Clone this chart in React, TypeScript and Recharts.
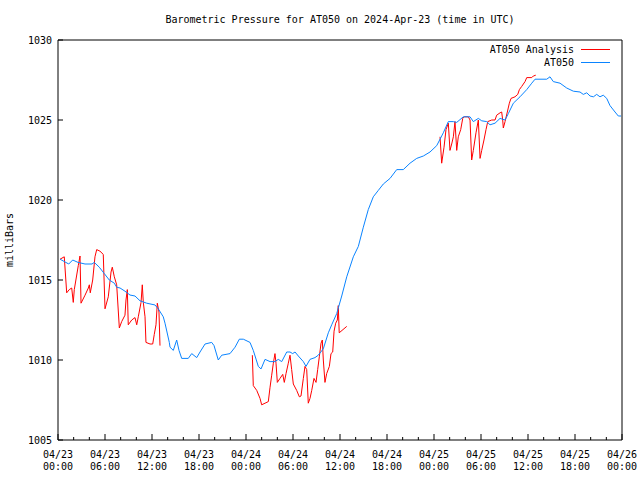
import React from 'react';
import { LineChart, Line, XAxis, YAxis } from 'recharts';

// hours since 2024-04-23 00:00 UTC
const stationHours = [
  0.26, 1.37, 1.88, 2.55, 3.45, 4.34, 4.63, 5.27, 5.91, 6.55, 7.19, 7.49, 7.92, 8.55, 9.19, 9.83,
  10.47, 11.32, 12.38, 12.8, 13.44, 13.66, 14.21, 14.3, 14.72, 15.15, 15.45, 15.79, 16.63, 17.07,
  17.71, 18.13, 18.77, 19.62, 19.92, 20.46, 20.9, 21.96, 22.6, 23.15, 23.66, 24.51, 24.93, 25.57,
  25.92, 26.43, 27.07, 27.7, 28.12, 28.56, 29.2, 29.62, 29.96, 30.26, 30.68, 31.32, 31.66, 32.17,
  32.81, 33.23, 33.87, 34.51, 34.94, 35.58, 36.22, 36.86, 37.7, 38.34, 38.98, 39.61, 40.25, 40.89,
  41.53, 42.39, 43.24, 44.08, 44.94, 45.79, 46.64, 47.49, 48.35, 49.19, 49.83, 50.47, 50.9, 51.74,
  52.6, 53.02, 53.66, 54.09, 54.73, 55.15, 55.79, 56.43, 57.07, 57.49, 58.13, 58.98, 59.84, 60.48,
  60.9, 62.39, 62.81, 63.23, 64.09, 64.94, 65.79, 66.64, 67.06, 67.5, 67.92, 68.35, 68.77, 69.19,
  69.61, 70.05, 70.47, 71.11, 71.53, 71.88,
];
const stationPressure = [
  1016.3, 1016.0, 1016.25, 1016.1, 1016.0, 1016.0, 1016.1, 1015.8, 1015.4, 1015.0, 1014.8, 1014.55,
  1014.5, 1014.3, 1014.06, 1014.0, 1013.7, 1013.55, 1013.44, 1013.2, 1012.7, 1012.3, 1011.1, 1010.8,
  1010.6, 1011.25, 1010.6, 1010.1, 1010.1, 1010.4, 1010.15, 1010.5, 1011.0, 1011.1, 1010.9, 1010.0,
  1010.3, 1010.4, 1010.8, 1011.3, 1011.3, 1011.1, 1010.6, 1009.6, 1009.44, 1010.04, 1009.9, 1009.9,
  1010.04, 1009.9, 1010.5, 1010.5, 1010.4, 1010.5, 1010.25, 1009.9, 1009.6, 1010.04, 1010.15, 1010.3,
  1010.7, 1011.7, 1012.2, 1012.9, 1014.0, 1015.2, 1016.45, 1017.1, 1018.3, 1019.4, 1020.2, 1020.6,
  1021.0, 1021.35, 1021.9, 1021.9, 1022.3, 1022.6, 1022.75, 1023.0, 1023.4, 1024.2, 1024.9, 1024.9,
  1024.85, 1025.2, 1025.2, 1024.9, 1025.1, 1024.95, 1024.9, 1024.7, 1024.8, 1025.1, 1025.0, 1025.4,
  1026.05, 1026.45, 1026.9, 1027.3, 1027.55, 1027.55, 1027.7, 1027.4, 1027.3, 1027.0, 1026.8,
  1026.75, 1026.6, 1026.7, 1026.5, 1026.45, 1026.6, 1026.45, 1026.55, 1026.35, 1025.9, 1025.5,
  1025.25, 1025.25,
];

// analysis values, null = gap between runs
const analysisHours = [
  0.26, 0.8, 1.11, 1.44, 1.75, 1.95, 2.08, 2.59, 2.81, 2.94, 3.45, 3.87, 4.0, 4.12, 4.43, 4.72, 4.94,
  5.36, 5.78, 6.0, 6.42, 6.77, 6.93, 7.19, 7.49, 7.83, 8.13, 8.55, 8.68, 8.85, 8.97, 9.41, 9.83,
  10.05, 10.25, 10.6, 10.76, 10.89, 11.11, 11.23, 11.75, 12.09, 12.29, 12.51, 12.68, 12.89, 13.02,
  18.0,
  24.81, 24.93, 25.37, 25.79, 26.0, 26.43, 26.85, 27.07, 27.28, 27.49, 27.7, 27.83, 28.0, 28.34,
  28.69, 28.89, 29.11, 29.4, 29.62, 29.83, 30.04, 30.47, 30.81, 31.02, 31.32, 31.53, 31.75, 31.95,
  32.17, 32.39, 32.68, 32.94, 33.15, 33.36, 33.58, 33.74, 33.87, 34.08, 34.3, 34.64, 34.85, 35.07,
  35.24, 35.45, 35.66, 35.78, 35.9, 36.86,
  42.0,
  48.77, 48.98, 49.28, 49.53, 49.83, 50.04, 50.26, 50.47, 50.68, 50.9, 51.1, 51.41, 51.67, 51.87,
  52.38, 52.6, 52.81, 53.02, 53.36, 53.66, 53.88, 54.09, 54.38, 54.64, 54.86, 55.37, 55.79, 56.0,
  56.43, 56.64, 56.77, 56.85, 57.07, 57.36, 57.62, 57.83, 58.34, 58.69, 58.9, 59.2, 59.62, 59.84,
  60.48, 60.68, 60.99,
];
const analysisPressure = [
  1016.3, 1016.45, 1014.2, 1014.4, 1014.5, 1013.6, 1014.4, 1015.9, 1016.5, 1013.55, 1014.05, 1014.5,
  1014.7, 1014.2, 1015.0, 1016.45, 1016.9, 1016.8, 1016.6, 1013.2, 1013.95, 1015.5, 1015.8, 1015.2,
  1014.7, 1012.0, 1012.4, 1012.8, 1013.75, 1014.4, 1012.2, 1012.5, 1012.65, 1012.2, 1012.7, 1013.6,
  1014.7, 1013.6, 1012.7, 1011.1, 1011.0, 1011.0, 1011.6, 1012.2, 1013.55, 1013.0, 1010.9,
  null,
  1010.3, 1008.4, 1008.1, 1007.6, 1007.2, 1007.3, 1007.4, 1008.3, 1009.05, 1009.8, 1010.4, 1009.8,
  1008.6, 1008.85, 1009.1, 1008.6, 1009.15, 1009.8, 1010.3, 1009.4, 1008.5, 1008.1, 1007.7, 1007.75,
  1008.85, 1009.6, 1009.4, 1007.3, 1007.6, 1008.1, 1008.85, 1008.6, 1009.4, 1010.2, 1011.05,
  1011.25, 1010.0, 1008.6, 1009.15, 1009.6, 1010.4, 1010.5, 1011.8, 1012.3, 1012.5, 1013.4, 1011.7,
  1012.1,
  null,
  1023.95, 1022.3, 1023.3, 1024.4, 1024.8, 1023.1, 1023.5, 1023.95, 1024.9, 1023.1, 1023.95, 1024.4,
  1025.1, 1025.2, 1025.2, 1025.0, 1022.5, 1023.1, 1024.2, 1025.0, 1022.6, 1023.1, 1023.75, 1024.4,
  1024.9, 1025.0, 1025.0, 1025.3, 1025.45, 1025.5, 1025.0, 1024.5, 1024.9, 1025.5, 1026.05, 1026.35,
  1026.45, 1026.6, 1026.9, 1027.1, 1027.4, 1027.65, 1027.65, 1027.75, 1027.8,
];

const xTicks = [0, 2, 4, 6, 8, 10, 12, 14, 16, 18, 20, 22, 24, 26, 28, 30, 32, 34, 36, 38, 40, 42, 44,
  46, 48, 50, 52, 54, 56, 58, 60, 62, 64, 66, 68, 70, 72];
const yTicks = [1005, 1010, 1015, 1020, 1025, 1030];

const stationData = stationHours.map((h, i) => ({ h, p: stationPressure[i] }));
const analysisData = analysisHours.map((h, i) => ({ h, p: analysisPressure[i] }));

const FONT = "'DejaVu Sans Mono', 'Liberation Mono', monospace";
const BLUE = '#0a84ff';
const RED = '#ff0000';

const pad = (n: number) => (n < 10 ? '0' + n : '' + n);

const BottomTick = (props: any) => {
  const { x, y, payload } = props;
  const h = payload.value as number;
  const major = h % 6 === 0;
  const day = 23 + Math.floor(h / 24);
  return (
    <g>
      <line x1={x} x2={x} y1={y} y2={y - (major ? 6 : 3)} stroke="#000" />
      {major && (
        <text x={x} y={y} textAnchor="middle" fontFamily={FONT} fontSize={10} fill="#000">
          <tspan x={x} dy={18}>{`04/${day}`}</tspan>
          <tspan x={x} dy={12}>{`${pad(h % 24)}:00`}</tspan>
        </text>
      )}
    </g>
  );
};

const TopTick = (props: any) => {
  const { x, y, payload } = props;
  const major = (payload.value as number) % 6 === 0;
  return <line x1={x} x2={x} y1={y} y2={y + (major ? 6 : 3)} stroke="#000" />;
};

const LeftTick = (props: any) => {
  const { x, y, payload } = props;
  return (
    <g>
      <line x1={x} x2={x + 5} y1={y} y2={y} stroke="#000" />
      <text x={x - 6} y={y} dy={4} textAnchor="end" fontFamily={FONT} fontSize={10} fill="#000">
        {payload.value}
      </text>
    </g>
  );
};

const RightTick = (props: any) => {
  const { x, y } = props;
  return <line x1={x} x2={x - 5} y1={y} y2={y} stroke="#000" />;
};

export default function App() {
  return (
    <div style={{ position: 'absolute', left: 0, top: 0, width: 640, height: 480, background: '#fff' }}>
      <LineChart
        width={640}
        height={480}
        margin={{ top: 39, right: 17, bottom: 0, left: 8 }}
      >
        <XAxis
          dataKey="h"
          type="number"
          domain={[0, 72]}
          ticks={xTicks}
          interval={0}
          height={40}
          tickSize={0}
          tickMargin={0}
          tickLine={false}
          tick={<BottomTick />}
          axisLine={{ stroke: '#000' }}
          allowDataOverflow
        />
        <XAxis
          xAxisId="top"
          orientation="top"
          dataKey="h"
          type="number"
          domain={[0, 72]}
          ticks={xTicks}
          interval={0}
          height={1}
          tickSize={0}
          tickMargin={0}
          tickLine={false}
          tick={<TopTick />}
          axisLine={{ stroke: '#000' }}
        />
        <YAxis
          type="number"
          domain={[1005, 1030]}
          ticks={yTicks}
          interval={0}
          width={50}
          tickSize={0}
          tickMargin={0}
          tickLine={false}
          tick={<LeftTick />}
          axisLine={{ stroke: '#000' }}
          allowDataOverflow
        />
        <YAxis
          yAxisId="right"
          orientation="right"
          type="number"
          domain={[1005, 1030]}
          ticks={yTicks}
          interval={0}
          width={1}
          tickSize={0}
          tickMargin={0}
          tickLine={false}
          tick={<RightTick />}
          axisLine={{ stroke: '#000' }}
        />
        <Line
          data={analysisData}
          dataKey="p"
          type="linear"
          stroke={RED}
          strokeWidth={1}
          dot={false}
          connectNulls={false}
          isAnimationActive={false}
        />
        <Line
          data={stationData}
          dataKey="p"
          type="linear"
          stroke={BLUE}
          strokeWidth={1}
          dot={false}
          isAnimationActive={false}
        />
      </LineChart>
      <svg width={640} height={480} style={{ position: 'absolute', left: 0, top: 0, pointerEvents: 'none' }}>
        <text x={340} y={23} textAnchor="middle" fontFamily={FONT} fontSize={10} fill="#000">
          Barometric Pressure for AT050 on 2024-Apr-23 (time in UTC)
        </text>
        <text
          x={13}
          y={240}
          transform="rotate(-90 13 240)"
          textAnchor="middle"
          fontFamily={FONT}
          fontSize={10}
          fill="#000"
        >
          milliBars
        </text>
        <text x={574} y={53} textAnchor="end" fontFamily={FONT} fontSize={10} fill="#000">
          AT050 Analysis
        </text>
        <line x1={581} x2={610} y1={49.5} y2={49.5} stroke={RED} />
        <text x={574} y={66} textAnchor="end" fontFamily={FONT} fontSize={10} fill="#000">
          AT050
        </text>
        <line x1={581} x2={610} y1={62.5} y2={62.5} stroke={BLUE} />
      </svg>
    </div>
  );
}
